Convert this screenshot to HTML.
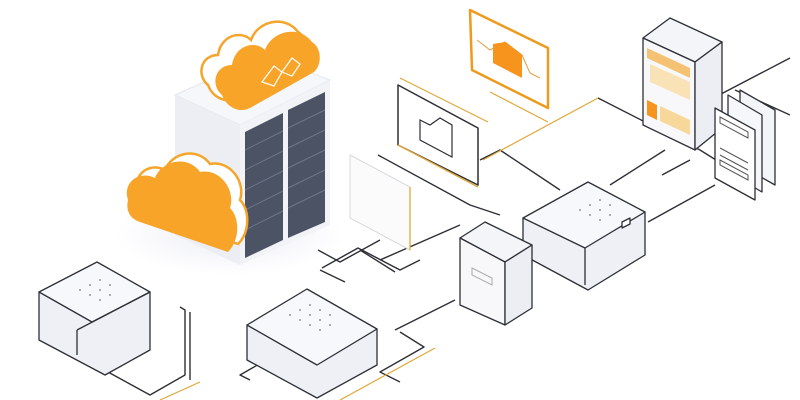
<!DOCTYPE html>
<html><head><style>html,body{margin:0;padding:0;background:#fff}svg{display:block}</style></head>
<body>
<svg width="800" height="400" viewBox="0 0 800 400" xmlns="http://www.w3.org/2000/svg">
<defs><radialGradient id="sh"><stop offset="0" stop-color="#eceef5"/><stop offset="1" stop-color="#fff"/></radialGradient></defs>
<rect width="800" height="400" fill="#fff"/>
<ellipse cx="230" cy="235" rx="115" ry="40" fill="url(#sh)"/>
<g fill="none" stroke="#2d2f36" stroke-width="1.4" stroke-linejoin="round">
<polyline points="318,250 340,262 380,240"/>
<polyline points="322,268 358,248 400,270 420,260"/>
<polyline points="360,250 395,272"/>
<polyline points="320,270 345,282"/>
<polyline points="378,155 470,205 500,215"/>
<polyline points="480,160 500,150 560,190"/>
<polyline points="598,98 700,150 740,175"/>
<polyline points="610,185 665,150"/>
<polyline points="662,175 690,160"/>
<polyline points="648,222 715,185"/>
<polyline points="310,335 240,375 250,380"/>
<polyline points="108,290 108,372 150,395 185,375 185,310 180,307"/>
<polyline points="190,312 190,380"/>
<polyline points="395,330 455,300"/>
<polyline points="400,332 424,347 380,372 400,382"/>
<polyline points="380,260 460,225"/>
<polyline points="700,105 790,58"/>
<polyline points="735,90 790,115"/>
</g>
<g fill="none" stroke="#e0a83a" stroke-width="1.2">
<polyline points="400,78 488,122"/>
<polyline points="490,92 548,122"/>
<polyline points="483,160 598,98"/>
<polyline points="160,400 200,382"/>
<polyline points="340,400 435,348"/>
</g>
<!-- tower -->
<polygon points="175,95 265,55 330,80 240,125" fill="#f6f7fa" stroke="#e4e6ee"/>
<polygon points="175,95 240,125 240,265 175,235" fill="#eceef4"/>
<polygon points="240,125 330,80 330,225 240,265" fill="#f2f3f7"/>
<polygon points="245,132 283,113 283,240 245,258" fill="#4b5365"/>
<polygon points="288,110 325,92 325,222 288,238" fill="#4b5365"/>
<g stroke="#6d7588" stroke-width="1">
<line x1="245" y1="150" x2="283" y2="131"/><line x1="245" y1="170" x2="283" y2="151"/><line x1="245" y1="190" x2="283" y2="171"/><line x1="245" y1="210" x2="283" y2="191"/><line x1="245" y1="230" x2="283" y2="211"/>
<line x1="288" y1="128" x2="325" y2="110"/><line x1="288" y1="148" x2="325" y2="130"/><line x1="288" y1="168" x2="325" y2="150"/><line x1="288" y1="188" x2="325" y2="170"/><line x1="288" y1="208" x2="325" y2="190"/>
</g>
<!-- top cloud -->
<path transform="translate(-14,-10)" d="M222,95 C210,85 215,65 232,65 C235,45 255,40 265,50 C272,30 300,25 312,42 C322,48 322,65 314,72 L250,108 C238,114 226,106 222,95Z" fill="#fff" stroke="#f4a52a" stroke-width="2.5"/>
<path d="M222,95 C210,85 215,65 232,65 C235,45 255,40 265,50 C272,30 300,25 312,42 C322,48 322,65 314,72 L250,108 C238,114 226,106 222,95Z" fill="#f7a428"/>
<path d="M262,82 l12,-16 8,6 -8,14z M282,72 l10,-14 8,6 -8,12z" fill="none" stroke="#fff" stroke-width="1.2"/>
<!-- left cloud -->
<path transform="translate(10,-8)" d="M128,200 C122,182 140,170 155,178 C162,160 188,155 200,172 C220,168 236,190 230,208 C240,218 240,240 228,252 L140,222 C128,218 126,208 128,200Z" fill="#fff" stroke="#f4a52a" stroke-width="2.5"/>
<path d="M128,200 C122,182 140,170 155,178 C162,160 188,155 200,172 C220,168 236,190 230,208 C240,218 240,240 228,252 L140,222 C128,218 126,208 128,200Z" fill="#f7a428"/>
<!-- orange chart -->
<polygon points="470,10 548,48 548,108 472,70" fill="#fff" stroke="#ee9a1e" stroke-width="2.5" stroke-linejoin="round"/>
<polyline points="477,40 490,50 505,42 522,55 530,73 540,78" fill="none" stroke="#e0a040" stroke-width="1"/>
<polygon points="493,44 505,42 522,55 522,78 493,63" fill="#f7941d"/>
<!-- monitor -->
<polygon points="398,85 478,128 478,185 398,145" fill="#fff" stroke="#2d2f36" stroke-width="1.5" stroke-linejoin="round"/>
<polyline points="398,145 478,187" fill="none" stroke="#e0a83a" stroke-width="1.5"/>
<polygon points="420,120 430,125 440,118 452,125 452,157 420,140" fill="none" stroke="#2d2f36" stroke-width="1.2"/>
<!-- light panel -->
<polygon points="350,155 410,187 410,250 350,218" fill="#fbfbfc" stroke="#d8d9de"/>
<line x1="410" y1="187" x2="410" y2="250" stroke="#e0a83a" stroke-width="1.3"/>
<!-- right tower -->
<g stroke="#2d2f36" stroke-width="1.3" stroke-linejoin="round">
<polygon points="643,38 670,18 722,42 695,62" fill="#f4f5f9"/>
<polygon points="643,38 695,62 695,150 643,125" fill="#f8f8fb"/>
<polygon points="695,62 722,42 722,128 695,150" fill="#eceef4"/>
</g>
<g fill="#f4c272"><polygon points="647,48 690,68 690,78 647,58"/><polygon points="647,100 657,105 657,120 647,115" fill="#f7941d"/><polygon points="660,106 690,120 690,135 660,121" fill="#f7d79a"/><polygon points="650,64 690,82 690,100 650,82" fill="#f9e2b5"/></g>
<!-- document panel -->
<g stroke="#2d2f36" stroke-width="1.3" stroke-linejoin="round">
<polygon points="740,90 775,110 775,185 740,165" fill="#f4f5f9"/>
<polygon points="728,95 762,115 762,192 728,172" fill="#f6f7fa"/>
<polygon points="715,108 755,130 755,200 715,178" fill="#fff"/>
</g>
<g stroke="#555" stroke-width="1" fill="none"><polygon points="720,117 748,132 748,138 720,123"/><line x1="720" y1="148" x2="748" y2="163"/><line x1="720" y1="155" x2="748" y2="170"/><polygon points="720,160 748,175 748,180 720,165"/></g>
<!-- middle router -->
<g stroke="#2d2f36" stroke-width="1.3" stroke-linejoin="round">
<polygon points="523,218 523,255 588,290 645,255 645,212" fill="#eef0f5"/>
<polygon points="523,218 588,182 645,212 585,248" fill="#f7f8fb"/>
<polyline points="585,248 585,285" fill="none"/>
<polygon points="622,222 630,218 630,224 622,228" fill="#fff"/>
</g>
<!-- small tower -->
<g stroke="#2d2f36" stroke-width="1.3" stroke-linejoin="round">
<polygon points="460,238 485,222 532,245 505,262" fill="#f4f5f9"/>
<polygon points="460,238 505,262 505,325 460,305" fill="#f8f8fb"/>
<polygon points="505,262 532,245 532,308 505,325" fill="#eceef4"/>
</g>
<polygon points="472,268 492,278 492,285 472,275" fill="none" stroke="#aaa"/>
<!-- bottom-left box -->
<g stroke="#2d2f36" stroke-width="1.3" stroke-linejoin="round">
<polygon points="39,292 39,340 105,375 150,350 150,292" fill="#eef0f5"/>
<polygon points="39,292 97,262 150,292 92,322" fill="#f7f8fb"/>
<polyline points="77,330 77,355" fill="none"/>
<polyline points="77,330 150,292" fill="none"/>
</g>
<!-- bottom-center box -->
<g stroke="#2d2f36" stroke-width="1.3" stroke-linejoin="round">
<polygon points="247,325 247,360 317,398 377,365 377,329" fill="#eef0f5"/>
<polygon points="247,325 307,289 377,329 317,365" fill="#f7f8fb"/>
</g>
<g fill="#777">
<circle cx="290" cy="315" r=".9"/><circle cx="300" cy="320" r=".9"/><circle cx="310" cy="325" r=".9"/><circle cx="320" cy="330" r=".9"/><circle cx="300" cy="310" r=".9"/><circle cx="310" cy="315" r=".9"/><circle cx="320" cy="320" r=".9"/><circle cx="330" cy="325" r=".9"/><circle cx="310" cy="305" r=".9"/><circle cx="320" cy="310" r=".9"/><circle cx="330" cy="315" r=".9"/>
<circle cx="80" cy="290" r=".9"/><circle cx="90" cy="295" r=".9"/><circle cx="100" cy="300" r=".9"/><circle cx="90" cy="285" r=".9"/><circle cx="100" cy="290" r=".9"/><circle cx="110" cy="295" r=".9"/><circle cx="100" cy="280" r=".9"/><circle cx="110" cy="285" r=".9"/>
<circle cx="580" cy="210" r=".9"/><circle cx="590" cy="215" r=".9"/><circle cx="600" cy="220" r=".9"/><circle cx="590" cy="205" r=".9"/><circle cx="600" cy="210" r=".9"/><circle cx="610" cy="215" r=".9"/><circle cx="600" cy="200" r=".9"/><circle cx="610" cy="205" r=".9"/>
</g>
</svg>
</body></html>
